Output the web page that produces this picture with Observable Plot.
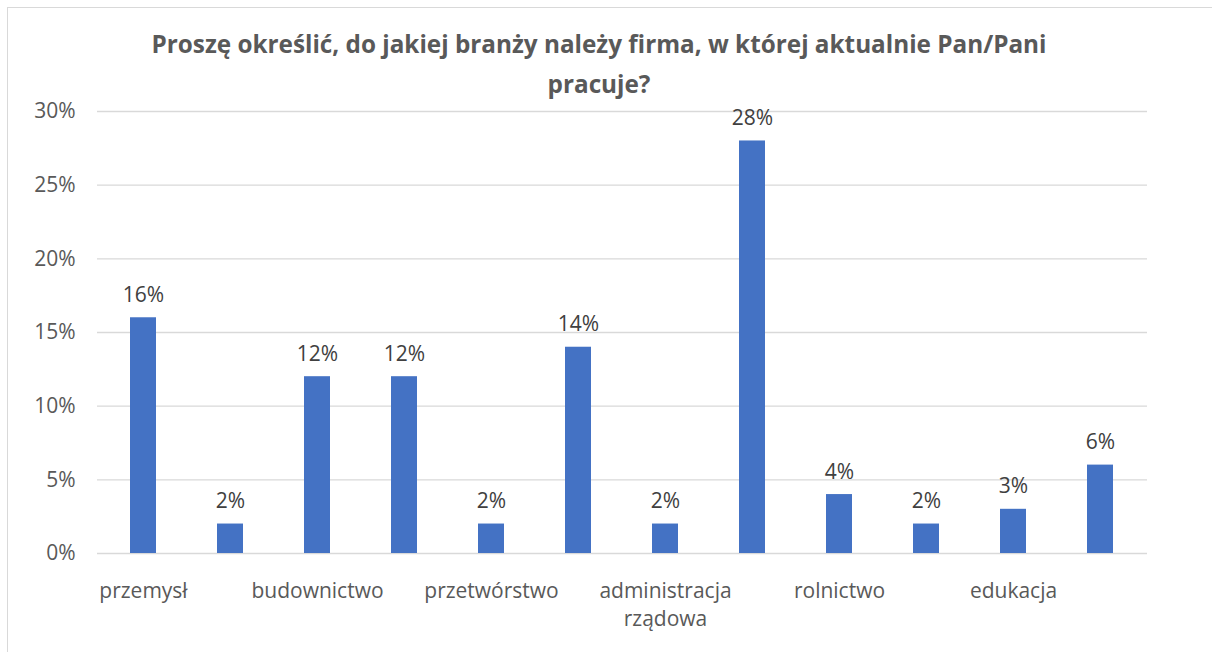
<!DOCTYPE html>
<html><head><meta charset="utf-8">
<script src="https://cdn.jsdelivr.net/npm/d3@7"></script>
<script src="https://cdn.jsdelivr.net/npm/@observablehq/plot@0.6"></script>
<style>
body{margin:0;background:#fff;}
#wrap{position:relative;width:1212px;height:652px;overflow:hidden;background:#fff}
#frame{position:absolute;left:7px;top:7px;width:1300px;height:800px;border:1px solid #d9d9d9;box-sizing:border-box}
#title{position:absolute;left:-7px;width:1212px;top:24px;text-align:center;font-family:'Open Sans';font-weight:bold;font-size:24.3px;color:#595959;line-height:40px;z-index:2}
#chart{position:absolute;left:0;top:0}
</style>
</head><body>
<div id="wrap">
<div id="frame"></div>
<div id="title">Proszę określić, do jakiej branży należy firma, w której aktualnie Pan/Pani<br>pracuje?</div>
<div id="chart"></div>
</div>
<script>
// 12 categories; only every other label is displayed in the source chart
const tickLabels = ["przemysł", "", "budownictwo", "", "przetwórstwo", "", "administracja\nrządowa", "", "rolnictwo", "", "edukacja", ""];
const values = [0.16, 0.02, 0.12, 0.12, 0.02, 0.14, 0.02, 0.28, 0.04, 0.02, 0.03, 0.06];
const yTicks = [0, 0.05, 0.10, 0.15, 0.20, 0.25, 0.30];

const data = values.map((v, i) => ({i, v}));
const pct = d3.format(".0%");
const font = "'Open Sans', sans-serif";

const chart = Plot.plot({
  width: 1212,
  height: 652,
  marginLeft: 97,
  marginRight: 65,
  marginTop: 111,
  marginBottom: 99,
  style: {fontFamily: font, fontSize: "21px", color: "#595959", background: "transparent"},
  x: {type: "band", domain: d3.range(values.length), paddingInner: 0.7, paddingOuter: 0.35, label: null},
  y: {domain: [0, 0.30], label: null},
  marks: [
    Plot.ruleY(yTicks, {stroke: "#d9d9d9", strokeWidth: 1.3}),
    Plot.barY(data, {x: "i", y: "v", fill: "#4472c4"}),
    Plot.text(data, {x: "i", y: "v", text: d => pct(d.v), dy: -16, lineAnchor: "bottom", fill: "#404040", fontSize: 21}),
    Plot.axisY({ticks: yTicks, tickFormat: pct, tickSize: 0, tickPadding: 22, label: null, fontSize: 21, fill: "#595959"}),
    Plot.axisX({tickFormat: i => tickLabels[i], tickSize: 0, tickPadding: 24, label: null, fontSize: 21, lineHeight: 1.35, fill: "#595959"})
  ]
});
document.getElementById("chart").appendChild(chart);
</script>
</body></html>
